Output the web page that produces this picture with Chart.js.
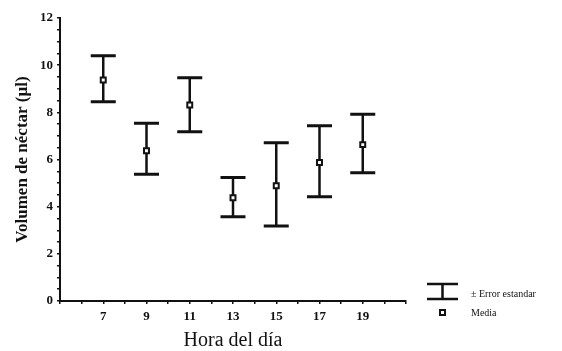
<!DOCTYPE html>
<html>
<head>
<meta charset="utf-8">
<script src="https://cdn.jsdelivr.net/npm/chart.js@4/dist/chart.umd.min.js"></script>
<style>
  html, body { margin: 0; padding: 0; background: #fff; }
  #wrap { width: 562px; height: 351px; }
</style>
</head>
<body>
<div id="wrap"><canvas id="chart" width="562" height="351"></canvas></div>
<script>
// data
const hours = [7, 9, 11, 13, 15, 17, 19];
const means = [9.37, 6.37, 8.31, 4.38, 4.89, 5.87, 6.63];
const upper = [10.4, 7.54, 9.47, 5.24, 6.71, 7.43, 7.92];
const lower = [8.45, 5.37, 7.18, 3.57, 3.18, 4.42, 5.44];

const serif = "'Liberation Serif', 'Times New Roman', serif";

// error bars behind the mean squares + the little legend on the right
const errorBars = {
  id: "errorBars",
  beforeDatasetsDraw(chart) {
    const { ctx, scales: { x, y } } = chart;
    ctx.save();
    ctx.strokeStyle = "#111";
    ctx.lineCap = "butt";
    hours.forEach((h, i) => {
      const px = x.getPixelForValue(h);
      const top = y.getPixelForValue(upper[i]);
      const bot = y.getPixelForValue(lower[i]);
      ctx.lineWidth = 2.5;
      ctx.beginPath();
      ctx.moveTo(px, top);
      ctx.lineTo(px, bot);
      ctx.stroke();
      ctx.lineWidth = 3;
      ctx.beginPath();
      ctx.moveTo(px - 12.5, top);
      ctx.lineTo(px + 12.5, top);
      ctx.moveTo(px - 12.5, bot);
      ctx.lineTo(px + 12.5, bot);
      ctx.stroke();
    });
    ctx.restore();
  },
  afterDraw(chart) {
    const { ctx, chartArea } = chart;
    const lx = chartArea.right + 21;
    const ly = chartArea.bottom - 17;
    ctx.save();
    ctx.strokeStyle = "#111";
    ctx.lineWidth = 2.5;
    ctx.beginPath();
    ctx.moveTo(lx, ly);
    ctx.lineTo(lx + 31, ly);
    ctx.moveTo(lx, ly + 15);
    ctx.lineTo(lx + 31, ly + 15);
    ctx.moveTo(lx + 15.5, ly);
    ctx.lineTo(lx + 15.5, ly + 15);
    ctx.stroke();
    ctx.lineWidth = 2;
    ctx.strokeRect(lx + 13, ly + 26, 5, 5);
    ctx.fillStyle = "#111";
    ctx.font = "10px " + serif;
    ctx.textBaseline = "middle";
    ctx.fillText("\u00b1 Error estandar", lx + 44, ly + 10);
    ctx.fillText("Media", lx + 44, ly + 29);
    ctx.restore();
  }
};

new Chart(document.getElementById("chart"), {
  type: "scatter",
  data: {
    datasets: [{
      label: "Media",
      data: hours.map((h, i) => ({ x: h, y: means[i] })),
      pointStyle: "rect",
      pointRadius: 3.5,
      pointHoverRadius: 3.5,
      backgroundColor: "#fff",
      borderColor: "#111",
      borderWidth: 2
    }]
  },
  options: {
    responsive: false,
    animation: false,
    layout: { padding: { top: 18, right: 156, left: 0, bottom: 0 } },
    plugins: { legend: { display: false }, tooltip: { enabled: false } },
    scales: {
      x: {
        type: "linear",
        min: 5,
        max: 21,
        afterFit: s => { s.height = 50; },
        border: { display: true, color: "#111", width: 2 },
        grid: { drawOnChartArea: false, drawTicks: true, tickLength: 3, color: "#111", lineWidth: 1.5 },
        ticks: {
          stepSize: 1,
          autoSkip: false,
          maxRotation: 0,
          padding: 5,
          color: "#111",
          font: { family: serif, size: 13, weight: "bold" },
          callback: v => (v >= 7 && v <= 19 && v % 2 === 1) ? String(v) : ""
        },
        title: {
          display: true,
          text: "Hora del día",
          color: "#111",
          font: { family: serif, size: 20, lineHeight: 1 },
          padding: { top: 0, bottom: 0 }
        }
      },
      y: {
        min: 0,
        max: 12,
        afterFit: s => { s.width = 60; },
        border: { display: true, color: "#111", width: 2 },
        grid: { drawOnChartArea: false, drawTicks: true, tickLength: 3, color: "#111", lineWidth: 1.5 },
        ticks: {
          stepSize: 0.5,
          autoSkip: false,
          padding: 4,
          color: "#111",
          font: { family: serif, size: 13, weight: "bold" },
          callback: v => (v % 2 === 0) ? String(v) : ""
        },
        title: {
          display: true,
          text: "Volumen de néctar (µl)",
          color: "#111",
          font: { family: serif, size: 17, weight: "bold" },
          padding: { top: 12, bottom: 0 }
        }
      }
    }
  },
  plugins: [errorBars]
});
</script>
</body>
</html>
